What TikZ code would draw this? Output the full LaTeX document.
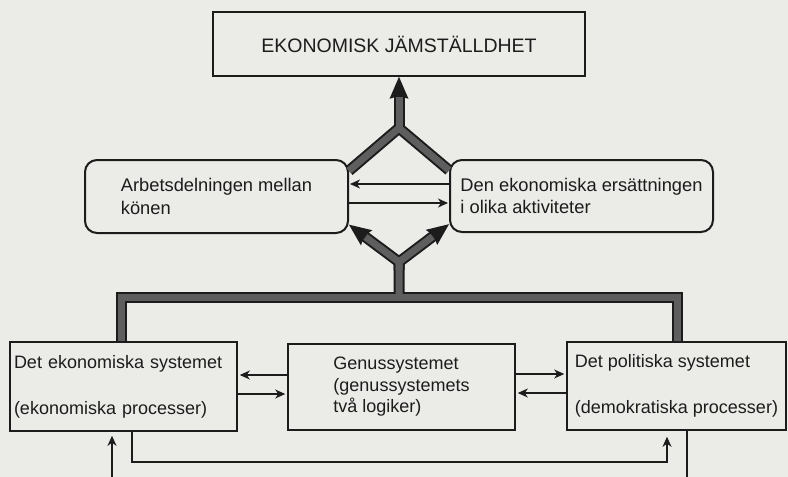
\documentclass[tikz,border=0pt]{standalone}
\usepackage{fontspec}
\setmainfont{Liberation Sans}
\usetikzlibrary{arrows.meta}
\definecolor{paper}{HTML}{EBEBE8}
\definecolor{ink}{HTML}{1C1C1C}
\definecolor{band}{HTML}{5E5E5E}
\tikzset{
  box/.style={draw=ink, fill=paper, line width=1.6pt, inner sep=0pt, text=ink, font=\fontsize{18}{22}\selectfont},
  rbox/.style={box, line width=2pt, rounded corners=12pt},
  flow/.style={draw=ink, line width=1.1pt, -{Stealth[length=10pt,width=9pt,inset=3pt]}},
  wire/.style={draw=ink, line width=1.1pt},
  bandout/.style={draw=ink, line width=11pt},
  bandin/.style={draw=band, line width=7pt},
  bandtip/.style={-{Stealth[length=22pt,width=19pt,inset=3pt,line width=0pt]}},
  bandcut/.style={shorten >=20.5pt}
}

\begin{document}
\begin{tikzpicture}[x=1pt,y=-1pt]
  \fill[paper] (0,0) rectangle (788,477);
  \useasboundingbox (0,0) rectangle (788,477);
  % goal and the two middle factors
  \node[box, minimum width=372pt, minimum height=64pt, font=\fontsize{19.5}{23}\selectfont] (jamst) at (399,44) {EKONOMISK JÄMSTÄLLDHET};
  \node[rbox, minimum width=263pt, minimum height=73pt, align=left, font=\fontsize{18.3}{22.5}\selectfont] (arbets) at (216.5,196.5) {Arbetsdelningen mellan\\könen};
  \node[rbox, minimum width=263pt, minimum height=72pt, align=left, font=\fontsize{18.3}{22.5}\selectfont] (ersatt) at (581.5,196) {Den ekonomiska ersättningen\\i olika aktiviteter};
  % the three systems
  \node[box, minimum width=227pt, minimum height=89pt, inner xsep=4pt, text width=219pt, align=left] (ekon) at (123.5,386.5) {Det ekonomiska systemet\\[24pt](ekonomiska processer)};
  \node[box, minimum width=227pt, minimum height=86pt, align=left, font=\fontsize{18}{21.5}\selectfont] (genus) at (401.5,387) {Genussystemet\\(genussystemets\\två logiker)};
  \node[box, minimum width=219pt, minimum height=88pt, align=left] (polit) at (676.5,386) {Det politiska systemet\\[24pt](demokratiska processer)};

  % thick bands
  \coordinate (fl) at (121,297.5);
  \coordinate (fr) at (677.5,297.5);
  \coordinate (jY) at (399,262);
  \coordinate (apex) at (399,128);
  \foreach \ln/\tp in {bandout/bandtip, bandin/bandcut} {
    \draw[\ln] (ekon.north -| fl) -- (fl) -- (fr) -- (polit.north -| fr);
    \draw[\ln,\tp] (fl -| jY) -- (jY) -- (arbets.-12);
    \draw[\ln,\tp] (jY |- 0,270) -- (jY) -- (ersatt.-168);
    \draw[\ln] (arbets.11) -- (apex) -- (ersatt.169);
    \draw[\ln,\tp] (apex) -- (jamst.south);
  }

  % thin arrows
  \draw[flow, shorten >=1pt] (ersatt.west |- 0,184) -- (arbets.east |- 0,184);
  \draw[flow, shorten >=1pt] (arbets.east |- 0,203) -- (ersatt.west |- 0,203);
  \draw[flow, shorten >=2pt] (genus.west |- 0,375) -- (ekon.east |- 0,375);
  \draw[flow, shorten >=2pt] (ekon.east |- 0,394) -- (genus.west |- 0,394);
  \draw[flow, shorten >=2pt] (genus.east |- 0,374) -- (polit.west |- 0,374);
  \draw[flow, shorten >=2pt] (polit.west |- 0,393) -- (genus.east |- 0,393);

  % feedback below
  \coordinate (inL) at (112,477);
  \coordinate (outR) at (687,477);
  \draw[flow, shorten >=4pt] (inL) -- (inL |- ekon.south);
  \draw[flow, shorten >=6pt] (ekon.south -| 132,0) |- (667,462) -- (polit.south -| 667,0);
  \draw[wire] (polit.south -| outR) -- (outR);
\end{tikzpicture}
\end{document}
